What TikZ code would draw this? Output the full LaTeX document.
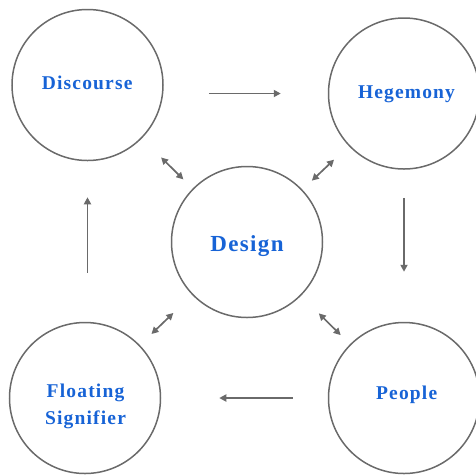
\documentclass[tikz,border=0pt]{standalone}
\usepackage{fontspec}
\setmainfont{Liberation Serif}
\usetikzlibrary{arrows.meta}

\definecolor{ringgray}{HTML}{6A6A6A}
\definecolor{termblue}{HTML}{1763D6}

\tikzstyle{px}=[x=1pt,y=-1pt]
\tikzstyle{ring}=[circle,draw=ringgray,line width=1.5pt,minimum size=151pt,inner sep=0pt]
\tikzstyle{term}=[inner sep=0pt,text=termblue,align=center,
    font=\fontsize{19.5}{26.7}\selectfont\bfseries\addfontfeatures{LetterSpace=6}]
\tikzstyle{flow}=[draw=ringgray,line width=1.7pt,-{Triangle[length=7pt,width=7pt]}]
\tikzstyle{link}=[draw=ringgray,line width=1.7pt,{Triangle[length=7pt,width=7pt]}-{Triangle[length=7pt,width=7pt]}]

\begin{document}
\begin{tikzpicture}[style=px]
\useasboundingbox (0,0) rectangle (476,475);

% the five rings
\node[ring] (discourse) at (87.5,85) {};
\node[ring] (hegemony) at (404,93.5) {};
\node[ring] (design) at (247,242) {};
\node[ring] (people) at (404,398) {};
\node[ring] (floating) at (85,398) {};

% their names
\node[term,anchor=base] (discoursetext) at (87.2,89.3) {Discourse};
\node[term,anchor=base] (hegemonytext) at (406.5,98.3) {Hegemony};
\node[term,anchor=base,font=\fontsize{23}{28}\selectfont\bfseries\addfontfeatures{LetterSpace=6}]
    (designtext) at (247,251) {Design};
\node[term,anchor=base] (peopletext) at (406.7,399.7) {People};
\node[term] (floatingtext) at (85.5,406.5) {Floating\\Signifier};

% the cycle round the outside
\draw[flow,shorten <=45pt,shorten >=47pt] (discourse.east |- hegemony.west) -- (hegemony.west);
\draw[flow,shorten <=28pt,shorten >=50pt] (hegemony.south) -- (people.north);
\draw[flow,shorten <=35pt,shorten >=58pt] (people.west) -- (floating.east);
\draw[flow,shorten <=49pt,shorten >=36pt] (floating.north -| discourse.south) -- (discourse.south);

% design in the middle talks to all four
\draw[link,shorten <=27pt,shorten >=13pt] (discourse) -- (design);
\draw[link,shorten <=20pt,shorten >=13pt] (hegemony) -- (design);
\draw[link,shorten <=16pt,shorten >=26pt] (floating) -- (design);
\draw[link,shorten <=13pt,shorten >=25pt] (people) -- (design);

\end{tikzpicture}
\end{document}
